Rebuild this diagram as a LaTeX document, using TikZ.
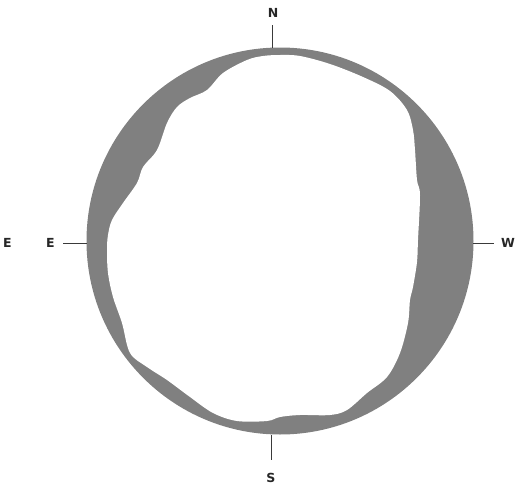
\documentclass[tikz,border=0pt]{standalone}
\usepackage{fontspec}
\setsansfont{DejaVu Sans}
\usetikzlibrary{positioning}
\definecolor{band}{HTML}{808080}
\definecolor{tick}{HTML}{3A3A3A}
\tikzset{
  compass/.style={font=\sffamily\bfseries\fontsize{12.5}{14}\selectfont, text=black!85, inner sep=0pt},
  ticked/.style={tick, line width=0.9pt}
}

\begin{document}
\begin{tikzpicture}[x=1pt, y=-1pt]
\useasboundingbox (0,0) rectangle (531,485);
% ---------- the disc and its cleared inside
\fill[band] (280,241) circle (193.5);
\fill[white] plot[smooth cycle, tension=0.55] coordinates {
  (280,55) (300,56) (330,64) (363,77) (390,91) (407,110) (413,130)
  (415,150) (417,180) (420,195) (418,240) (417,262) (413,287)
  (410,300) (408,323) (400,353) (387,377) (367,393) (347,410)
  (330,415) (300,415) (280,417) (267,421) (237,421) (213,413)
  (190,397) (167,380) (147,367) (130,353) (122,323) (113,297)
  (108,273) (107,250) (108,235) (112,220) (123,203) (137,183)
  (143,167) (157,150) (167,123) (177,107) (190,98) (207,90)
  (223,73) (247,60) (263,56)};

% ---------- ticks on the rim
\coordinate (n0) at (272,25);  \coordinate (n1) at (272,47.5);
\coordinate (s0) at (271,435); \coordinate (s1) at (271,460);
\coordinate (e0) at (63,243);  \coordinate (e1) at (87,243);
\coordinate (w0) at (473,243); \coordinate (w1) at (494,243);
\draw[ticked] (n0) -- (n1);
\draw[ticked] (s0) -- (s1);
\draw[ticked] (e0) -- (e1);
\draw[ticked] (w0) -- (w1);

% ---------- compass letters
\node[compass] (north) at (273,12.5) {N};
\node[compass] (south) at (271,478) {S};
\node[compass] (east)  at (50.5,243) {E};
\node[compass] (east2) at (7.5,243) {E};
\node[compass] (west)  at (508,243) {W};
\end{tikzpicture}
\end{document}
